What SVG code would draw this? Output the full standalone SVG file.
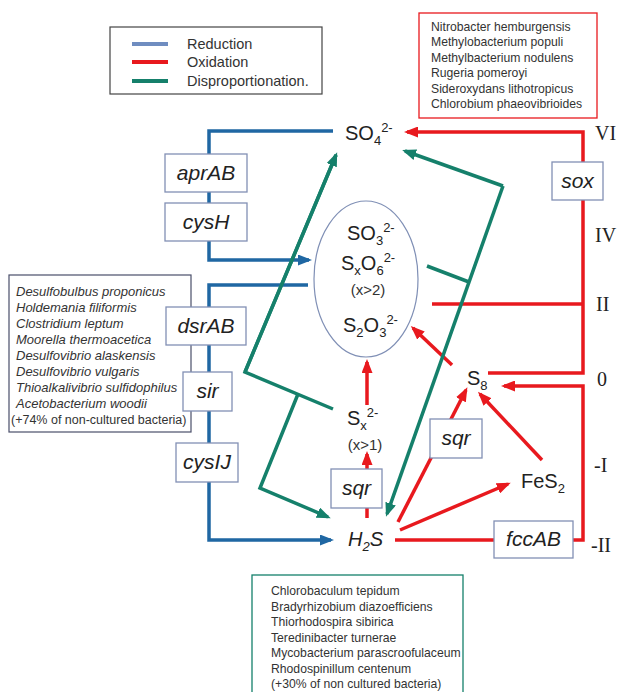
<svg xmlns="http://www.w3.org/2000/svg" width="621" height="692" viewBox="0 0 621 692">
<style>
.bg{fill:#fff}
.list{font-family:"Liberation Sans",Arial,sans-serif;font-size:12.2px;fill:#333}
.listi{font-family:"Liberation Sans",Arial,sans-serif;font-size:13px;fill:#333;font-style:italic}
.leg{font-family:"Liberation Sans",Arial,sans-serif;font-size:14.5px;fill:#333}
.chem{font-family:"Liberation Sans",Arial,sans-serif;font-size:20px;fill:#222}
.small{font-family:"Liberation Sans",Arial,sans-serif;font-size:15px;fill:#333}
.enz{font-family:"Liberation Sans",Arial,sans-serif;font-size:21px;font-style:italic;fill:#222;text-anchor:middle}
.rom{font-family:"Liberation Serif","Times New Roman",serif;font-size:20px;fill:#222}
.box{fill:#fff;stroke:#8290b4;stroke-width:1.3}
.red{fill:none;stroke:#e8191e;stroke-width:3.5}
.blue{fill:none;stroke:#1f67a3;stroke-width:3.5}
.green{fill:none;stroke:#15806b;stroke-width:3.5}
</style>
<defs>
<marker id="ar" markerUnits="userSpaceOnUse" markerWidth="14" markerHeight="11" refX="11" refY="5.5" orient="auto"><path d="M0,0 L14,5.5 L0,11 z" fill="#e8191e"/></marker>
<marker id="ab" markerUnits="userSpaceOnUse" markerWidth="14" markerHeight="11" refX="11" refY="5.5" orient="auto"><path d="M0,0 L14,5.5 L0,11 z" fill="#1f67a3"/></marker>
<marker id="ag" markerUnits="userSpaceOnUse" markerWidth="14" markerHeight="11" refX="11" refY="5.5" orient="auto"><path d="M0,0 L14,5.5 L0,11 z" fill="#15806b"/></marker>
</defs>
<rect class="bg" x="0" y="0" width="621" height="692"/>

<g id="legend">
<rect x="110" y="27" width="212" height="67" fill="#fff" stroke="#444" stroke-width="1.2"/>
<line x1="132" y1="44" x2="168" y2="44" stroke="#6f8dc0" stroke-width="4"/>
<line x1="132" y1="62" x2="168" y2="62" stroke="#e8191e" stroke-width="4"/>
<line x1="132" y1="81" x2="168" y2="81" stroke="#15806b" stroke-width="4"/>
<text class="leg" x="187" y="49">Reduction</text>
<text class="leg" x="187" y="67">Oxidation</text>
<text class="leg" x="187" y="86">Disproportionation.</text>
</g>

<g id="oxidizers">
<rect x="419" y="13" width="178" height="105" fill="#fff" stroke="#e8191e" stroke-width="1.3"/>
<text class="list" x="431" y="31">Nitrobacter hemburgensis</text>
<text class="list" x="431" y="46.4">Methylobacterium populi</text>
<text class="list" x="431" y="61.8">Methylbacterium nodulens</text>
<text class="list" x="431" y="77.2">Rugeria pomeroyi</text>
<text class="list" x="431" y="92.6">Sideroxydans lithotropicus</text>
<text class="list" x="431" y="108">Chlorobium phaeovibrioides</text>
</g>

<g id="reducers">
<rect x="9" y="275" width="182" height="157" fill="#fff" stroke="#4a4f6a" stroke-width="1.2"/>
<text class="listi" x="16" y="296">Desulfobulbus proponicus</text>
<text class="listi" x="16" y="312">Holdemania filiformis</text>
<text class="listi" x="16" y="328">Clostridium leptum</text>
<text class="listi" x="16" y="344">Moorella thermoacetica</text>
<text class="listi" x="16" y="360">Desulfovibrio alaskensis</text>
<text class="listi" x="16" y="376">Desulfovibrio vulgaris</text>
<text class="listi" x="16" y="392">Thioalkalivibrio sulfidophilus</text>
<text class="listi" x="16" y="408">Acetobacterium woodii</text>
<text class="list" x="11" y="424" style="font-size:12.5px">(+74% of non-cultured bacteria)</text>
</g>

<g id="disproportionators">
<rect x="252" y="575" width="211" height="130" fill="#fff" stroke="#15806b" stroke-width="1.3"/>
<text class="list" x="271" y="595">Chlorobaculum tepidum</text>
<text class="list" x="271" y="610.5">Bradyrhizobium diazoefficiens</text>
<text class="list" x="271" y="626">Thiorhodospira sibirica</text>
<text class="list" x="271" y="641.5">Teredinibacter turnerae</text>
<text class="list" x="271" y="657">Mycobacterium parascroofulaceum</text>
<text class="list" x="271" y="672.5">Rhodospinillum centenum</text>
<text class="list" x="271" y="688">(+30% of non cultured bacteria)</text>
</g>

<g id="connectors">
<polyline class="blue" points="333,131 209,131 209,260 309,260" marker-end="url(#ab)"/>
<polyline class="blue" points="308,285 209,285 209,540 331,540" marker-end="url(#ab)"/>

<line class="red" x1="367" y1="518" x2="367" y2="454" marker-end="url(#ar)"/>
<line class="red" x1="367" y1="405" x2="367" y2="362" marker-end="url(#ar)"/>
<line class="red" x1="398" y1="522" x2="466" y2="390" marker-end="url(#ar)"/>
<line class="red" x1="400" y1="530" x2="508" y2="484" marker-end="url(#ar)"/>
<line class="red" x1="542" y1="460" x2="480" y2="394" marker-end="url(#ar)"/>
<line class="red" x1="452" y1="365" x2="413" y2="328" marker-end="url(#ar)"/>
<polyline class="red" points="488,373 583,373 583,132 407,132" marker-end="url(#ar)"/>
<line class="red" x1="432" y1="304" x2="583" y2="304"/>
<polyline class="red" points="395,540 583,540 583,386 504,386" marker-end="url(#ar)"/>

<line class="green" x1="245" y1="372" x2="336" y2="155" marker-end="url(#ag)"/>
<polyline class="green" points="336,155 245,372 333,409"/>
<polyline class="green" points="298,394 260,488 328,517" marker-end="url(#ag)"/>
<line class="green" x1="427" y1="266" x2="469" y2="282"/>
<polyline class="green" points="503,186 387,514" marker-end="url(#ag)"/>
<polyline class="green" points="503,186 405,151" marker-end="url(#ag)"/>
</g>

<g id="SO4"><text class="chem" x="345" y="140">SO<tspan font-size="13" dy="5">4</tspan><tspan font-size="13" dy="-13">2-</tspan></text></g>
<g id="intermediates">
<ellipse cx="366" cy="279" rx="52" ry="78" fill="none" stroke="#7f8fb5" stroke-width="1.2"/>
<text class="chem" x="347" y="240">SO<tspan font-size="13" dy="5">3</tspan><tspan font-size="13" dy="-13">2-</tspan></text>
<text class="chem" x="341" y="270">S<tspan font-size="13" dy="5">x</tspan><tspan dy="-5">O</tspan><tspan font-size="13" dy="5">6</tspan><tspan font-size="13" dy="-13">2-</tspan></text>
<text class="small" x="368" y="295" text-anchor="middle">(x&gt;2)</text>
<text class="chem" x="343" y="332">S<tspan font-size="13" dy="5">2</tspan><tspan dy="-5">O</tspan><tspan font-size="13" dy="5">3</tspan><tspan font-size="13" dy="-13">2-</tspan></text>
</g>
<g id="Sx"><text class="chem" x="347" y="425">S<tspan font-size="13" dy="5">x</tspan><tspan font-size="13" dy="-13">2-</tspan></text>
<text class="small" x="365" y="450" text-anchor="middle">(x&gt;1)</text></g>
<g id="S8"><text class="chem" x="467" y="385">S<tspan font-size="13" dy="5">8</tspan></text></g>
<g id="FeS2"><text class="chem" x="521" y="488">FeS<tspan font-size="13" dy="5">2</tspan></text></g>
<g id="H2S"><text class="chem" x="348" y="546" font-style="italic">H<tspan font-size="13" dy="5">2</tspan><tspan dy="-5">S</tspan></text></g>

<g id="aprAB"><rect class="box" x="165" y="154" width="82" height="38"/><text class="enz" x="206" y="180">aprAB</text></g>
<g id="cysH"><rect class="box" x="165" y="203" width="82" height="38"/><text class="enz" x="206" y="229">cysH</text></g>
<g id="dsrAB"><rect class="box" x="166" y="307" width="80" height="38"/><text class="enz" x="206" y="333">dsrAB</text></g>
<g id="sir"><rect class="box" x="183" y="372" width="49" height="39"/><text class="enz" x="207.5" y="398">sir</text></g>
<g id="cysIJ"><rect class="box" x="176" y="443" width="62" height="39"/><text class="enz" x="207" y="469">cysIJ</text></g>
<g id="sqr1"><rect class="box" x="331" y="469" width="51" height="39"/><text class="enz" x="356.5" y="495">sqr</text></g>
<g id="sqr2"><rect class="box" x="430" y="419" width="52" height="39"/><text class="enz" x="456" y="445">sqr</text></g>
<g id="sox"><rect class="box" x="552" y="162" width="51" height="38"/><text class="enz" x="577.5" y="188">sox</text></g>
<g id="fccAB"><rect class="box" x="494" y="521" width="79" height="37"/><text class="enz" x="533.5" y="546">fccAB</text></g>

<g id="oxidation-states">
<text class="rom" x="595" y="140">VI</text>
<text class="rom" x="595" y="242">IV</text>
<text class="rom" x="596" y="311">II</text>
<text class="rom" x="597" y="386">0</text>
<text class="rom" x="594" y="472">-I</text>
<text class="rom" x="591" y="552">-II</text>
</g>
</svg>
